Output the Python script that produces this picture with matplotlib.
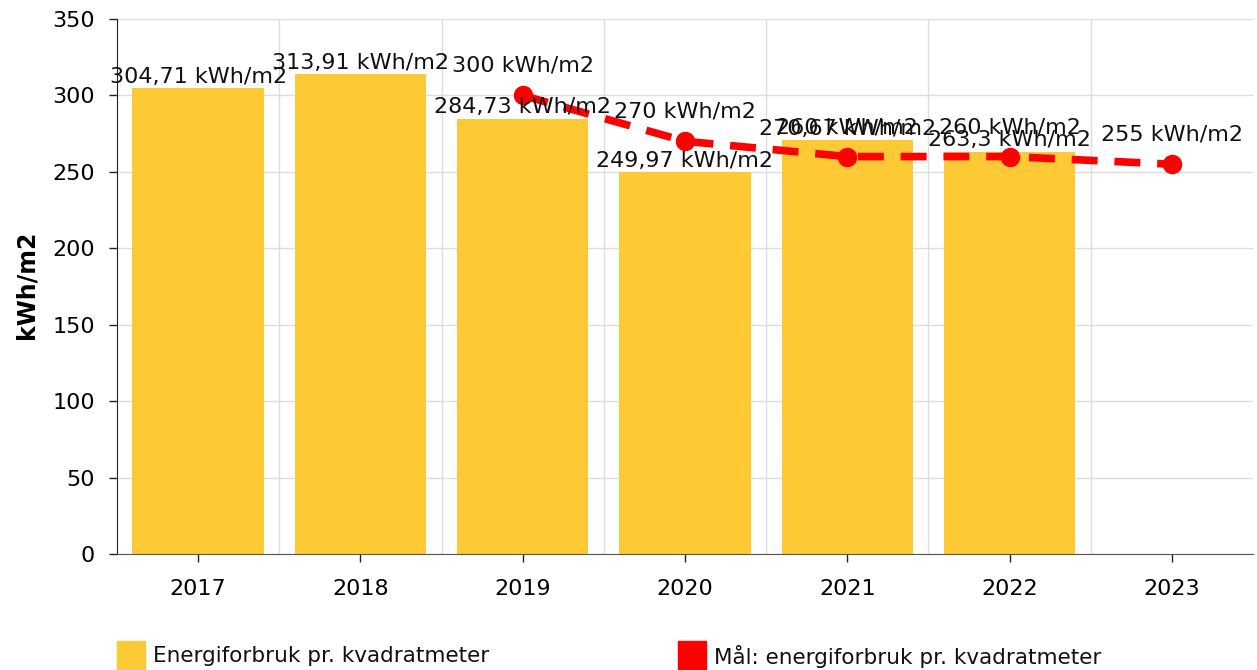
import matplotlib
matplotlib.use("Agg")
import matplotlib.pyplot as plt
from matplotlib.patches import Rectangle

years = ["2017", "2018", "2019", "2020", "2021", "2022", "2023"]
usage = [304.71, 313.91, 284.73, 249.97, 270.67, 263.3, None]
usage_labels = ["304,71 kWh/m2", "313,91 kWh/m2", "284,73 kWh/m2", "249,97 kWh/m2",
                "270,67 kWh/m2", "263,3 kWh/m2", ""]
target_years = ["2019", "2020", "2021", "2022", "2023"]
target = [300, 270, 260, 260, 255]
target_labels = ["300 kWh/m2", "270 kWh/m2", "260 kWh/m2", "260 kWh/m2", "255 kWh/m2"]
yticks = [0, 50, 100, 150, 200, 250, 300, 350]
legend_labels = ["Energiforbruk pr. kvadratmeter", "Mål: energiforbruk pr. kvadratmeter"]

BAR = "#FDCA35"
RED = "#FF0000"
W, H = 1257, 670
FS = 16
fig = plt.figure(figsize=(W / 100, H / 100), dpi=100)
ax = fig.add_axes([117 / W, 1 - 554 / H, (1253 - 117) / W, (554 - 19) / H])

xpos = list(range(len(years)))
bx = [i for i, v in zip(xpos, usage) if v is not None]
bv = [v for v in usage if v is not None]
ax.bar(bx, bv, width=0.81, color=BAR, zorder=2)
for i, v, lab in zip(xpos, usage, usage_labels):
    if v is None:
        continue
    ax.annotate(lab, (i, v), xytext=(0, 1), textcoords="offset points",
                ha="center", va="bottom", fontsize=FS, color="#111111", zorder=5)

tx = [years.index(y) for y in target_years]
ax.plot(tx, target, color=RED, lw=5.5, ls=(0, (3.4, 2.2)), marker="o",
        markersize=13, zorder=4)
for i, v, lab in zip(tx, target, target_labels):
    ax.annotate(lab, (i, v), xytext=(0, 14), textcoords="offset points",
                ha="center", va="bottom", fontsize=FS, color="#111111", zorder=5)

ax.set_xlim(-0.5, 6.5)
ax.set_ylim(0, 350)
ax.set_yticks(yticks)
ax.set_xticks(xpos)
ax.set_xticklabels(years)
ax.set_xticks([i + 0.5 for i in xpos[:-1]], minor=True)
ax.tick_params(axis="both", labelsize=FS, length=6, width=1, color="#222222")
ax.tick_params(axis="x", which="minor", length=0)
ax.tick_params(axis="x", pad=12)
ax.tick_params(axis="y", pad=10)
ax.grid(axis="y", color="#DDDDDD", lw=1, zorder=0)
ax.grid(axis="x", which="minor", color="#DDDDDD", lw=1, zorder=0)
ax.set_axisbelow(True)
for s in ["top", "right"]:
    ax.spines[s].set_visible(False)
ax.spines["bottom"].set_color("#555555")
ax.spines["left"].set_color("#222222")
ax.set_ylabel("kWh/m2", fontsize=17, fontweight="bold")
ax.yaxis.set_label_coords(-(117 - 38) / (1253 - 117), (554 - 285) / (554 - 19))

# legend
for x0, col, lab in [(117, BAR, legend_labels[0]), (678, RED, legend_labels[1])]:
    fig.add_artist(Rectangle((x0 / W, 0), 28 / W, 29 / H, transform=fig.transFigure,
                             color=col))
    fig.text((x0 + 36) / W, 1 - 656 / H, lab, fontsize=15.5, va="center", ha="left",
             color="#111111")

fig.savefig("out.png", dpi=100)
